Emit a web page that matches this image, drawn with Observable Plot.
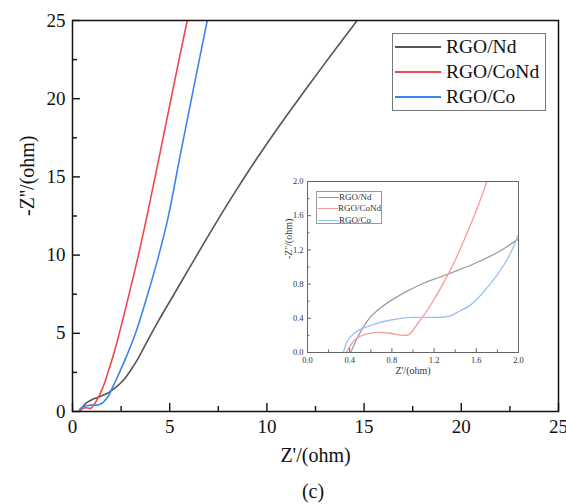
<!DOCTYPE html>
<html>
<head>
<meta charset="utf-8">
<script src="https://cdn.jsdelivr.net/npm/d3@7"></script>
<script src="https://cdn.jsdelivr.net/npm/@observablehq/plot@0.6"></script>
<style>
  html, body { margin: 0; padding: 0; background: #fff; overflow: hidden; }
  #fig { position: relative; width: 566px; height: 504px; font-family: "Liberation Serif", "Times New Roman", Times, "DejaVu Serif", serif; color: #111; }
  #fig svg { position: absolute; }
  .legend { position: absolute; background: #fff; box-sizing: border-box; }
  .legend .row { position: absolute; left: 0; right: 0; display: flex; align-items: center; }
  .legend .sw { display: inline-block; }
  #caption { position: absolute; left: 283px; width: 60px; top: 478px; height: 26px; line-height: 26px; text-align: center; font-size: 20px; }
</style>
</head>
<body>
<div id="fig"></div>
<script>
// ---- data ----
const seriesNames = ["RGO/Nd", "RGO/CoNd", "RGO/Co"];
const mainColors = ["#555555", "#f2474a", "#3a85ef"];
const insetColors = ["#9c9c9c", "#f79c9c", "#9dc1f3"];

const ndX = [0.41,0.46,0.52,0.6,0.7,0.82,0.95,1.1,1.25,1.4,1.6,1.8,2.0,2.3,2.65,3.0,3.4,3.85,4.4,5.2,6.0,6.8,7.6,8.4,9.2,10.0,11.0,12.0,13.0,14.0,14.64];
const ndY = [0,0.14,0.28,0.42,0.53,0.63,0.72,0.81,0.88,0.95,1.05,1.17,1.33,1.62,2.05,2.65,3.45,4.5,5.75,7.45,9.15,10.85,12.51,14.11,15.65,17.12,18.89,20.61,22.29,23.94,25];

const coNdX = [0.37,0.41,0.46,0.54,0.66,0.79,0.9,0.96,1.0,1.05,1.1,1.2,1.3,1.4,1.5,1.6,1.7,1.84,2.1,2.47,2.95,3.41,3.85,4.53,5.2,5.9];
const coNdY = [0,0.09,0.16,0.21,0.235,0.225,0.2,0.21,0.26,0.35,0.43,0.62,0.84,1.08,1.36,1.66,2.0,2.55,3.6,5.3,7.7,10.1,12.6,16.7,20.8,25];

const coX = [0.34,0.36,0.39,0.44,0.5,0.63,0.79,0.98,1.17,1.3,1.36,1.42,1.55,1.67,1.8,1.92,2.0,2.2,2.47,2.85,3.24,3.87,4.44,4.9,5.56,6.25,6.93];
const coY = [0,0.08,0.16,0.22,0.27,0.33,0.38,0.41,0.41,0.415,0.43,0.47,0.56,0.71,0.91,1.15,1.38,1.9,2.65,3.75,5.0,7.5,10,12.3,16.5,20.8,25];

const mainMajorTicks = [0,5,10,15,20,25];
const mainMinorTicks = [2.5,7.5,12.5,17.5,22.5];
const insetMajorTicks = [0,0.4,0.8,1.2,1.6,2.0];
const insetMinorTicks = [0.2,0.6,1.0,1.4,1.8];

const xLabel = "Z'/(ohm)";
const yLabel = "-Z''/(ohm)";
const captionText = "(c)";

// ---- table ----
const table = [];
[[ndX, ndY], [coNdX, coNdY], [coX, coY]].forEach(([xs, ys], i) => {
  xs.forEach((x, j) => table.push({series: seriesNames[i], x, y: ys[j]}));
});

const FONT = "'Liberation Serif', 'Times New Roman', Times, 'DejaVu Serif', serif";
const fig = document.getElementById("fig");

// ---- main plot ----
const mW = 566, mH = 478, mL = 72, mR = 8, mT = 20, mB = 67;
const fW = mW - mL - mR, fH = mH - mT - mB;
const main = Plot.plot({
  width: mW, height: mH,
  marginLeft: mL, marginRight: mR, marginTop: mT, marginBottom: mB,
  x: {domain: [0, 25]},
  y: {domain: [0, 25]},
  color: {domain: seriesNames, range: mainColors},
  style: {fontFamily: FONT, background: "transparent", color: "#111"},
  marks: [
    Plot.line(table, {x: "x", y: "y", z: "series", stroke: "series", strokeWidth: 1.6, curve: "catmull-rom", clip: true}),
    Plot.tickX(mainMajorTicks, {x: d => d, stroke: "#111", strokeWidth: 1.4, insetTop: fH - 8}),
    Plot.tickX(mainMinorTicks, {x: d => d, stroke: "#111", strokeWidth: 1.4, insetTop: fH - 5}),
    Plot.tickY(mainMajorTicks, {y: d => d, stroke: "#111", strokeWidth: 1.4, insetRight: fW - 8}),
    Plot.tickY(mainMinorTicks, {y: d => d, stroke: "#111", strokeWidth: 1.4, insetRight: fW - 5}),
    Plot.frame({stroke: "#111", strokeWidth: 1.5}),
    Plot.axisX(mainMajorTicks, {tickSize: 0, tickPadding: 8, fontSize: 19, fontFamily: FONT, label: null, fill: "#111"}),
    Plot.axisY(mainMajorTicks, {tickSize: 0, tickPadding: 7, fontSize: 19, fontFamily: FONT, label: null, fill: "#111"}),
    Plot.text([xLabel], {text: d => d, frameAnchor: "bottom", dy: 50, fontSize: 20, fontFamily: FONT, fill: "#111"}),
    Plot.text([yLabel], {text: d => d, frameAnchor: "left", dx: -45, rotate: -90, fontSize: 20, fontFamily: FONT, fill: "#111"})
  ]
});
main.style.left = "0px"; main.style.top = "0px";
fig.appendChild(main);

// ---- inset plot ----
const iLeft = 280, iTop = 170;
const iW = 250, iH = 215, iL = 27, iR = 12, iT = 11, iB = 33;
const ifW = iW - iL - iR, ifH = iH - iT - iB;
const inset = Plot.plot({
  width: iW, height: iH,
  marginLeft: iL, marginRight: iR, marginTop: iT, marginBottom: iB,
  x: {domain: [0, 2]},
  y: {domain: [0, 2]},
  color: {domain: seriesNames, range: insetColors},
  style: {fontFamily: FONT, background: "transparent", color: "#222"},
  marks: [
    Plot.line(table, {x: "x", y: "y", z: "series", stroke: "series", strokeWidth: 1.3, curve: "catmull-rom", clip: true}),
    Plot.tickX(insetMajorTicks, {x: d => d, stroke: "#555", strokeWidth: 0.9, insetTop: ifH - 4}),
    Plot.tickX(insetMinorTicks, {x: d => d, stroke: "#555", strokeWidth: 0.9, insetTop: ifH - 2.5}),
    Plot.tickY(insetMajorTicks, {y: d => d, stroke: "#555", strokeWidth: 0.9, insetRight: ifW - 4}),
    Plot.tickY(insetMinorTicks, {y: d => d, stroke: "#555", strokeWidth: 0.9, insetRight: ifW - 2.5}),
    Plot.frame({stroke: "#666", strokeWidth: 1}),
    Plot.axisX(insetMajorTicks, {tickSize: 0, tickPadding: 4, fontSize: 8.5, fontFamily: FONT, label: null, tickFormat: d3.format(".1f"), fill: "#333"}),
    Plot.axisY(insetMajorTicks, {tickSize: 0, tickPadding: 4, fontSize: 8.5, fontFamily: FONT, label: null, tickFormat: d3.format(".1f"), fill: "#333"}),
    Plot.text([xLabel], {text: d => d, frameAnchor: "bottom", dy: 21, fontSize: 10, fontFamily: FONT, fill: "#333"}),
    Plot.text([yLabel], {text: d => d, frameAnchor: "left", dx: -19, dy: -8, rotate: -90, fontSize: 10, fontFamily: FONT, fill: "#333"})
  ]
});
inset.style.left = iLeft + "px"; inset.style.top = iTop + "px";
fig.appendChild(inset);

// ---- legends ----
function makeLegend(colors, opts) {
  const box = document.createElement("div");
  box.className = "legend";
  Object.assign(box.style, {
    left: opts.left + "px", top: opts.top + "px", width: opts.width + "px", height: opts.height + "px",
    border: opts.border
  });
  seriesNames.forEach((name, i) => {
    const row = document.createElement("div");
    row.className = "row";
    row.style.top = (opts.firstRow + i * opts.rowGap - opts.fontSize / 2) + "px";
    row.style.height = opts.fontSize + "px";
    const sw = document.createElement("span");
    sw.className = "sw";
    Object.assign(sw.style, {
      marginLeft: opts.swLeft + "px", width: opts.swWidth + "px",
      borderTop: opts.lineWidth + "px solid " + colors[i], marginRight: opts.gap + "px"
    });
    const t = document.createElement("span");
    t.textContent = name;
    Object.assign(t.style, {fontSize: opts.fontSize + "px", lineHeight: opts.fontSize + "px", color: opts.textColor, fontFamily: FONT});
    row.appendChild(sw); row.appendChild(t);
    box.appendChild(row);
  });
  fig.appendChild(box);
}
makeLegend(mainColors, {left: 392, top: 33, width: 154, height: 78, border: "1.3px solid #777",
  firstRow: 13, rowGap: 25, fontSize: 19.5, swLeft: 2, swWidth: 46, lineWidth: 2, gap: 5, textColor: "#111"});
makeLegend(insetColors, {left: 316, top: 191, width: 66, height: 33, border: "1px solid #999",
  firstRow: 5, rowGap: 11.6, fontSize: 9, swLeft: 1, swWidth: 21, lineWidth: 1.5, gap: 0, textColor: "#333"});

// ---- caption ----
const cap = document.createElement("div");
cap.id = "caption";
cap.textContent = captionText;
cap.style.fontFamily = FONT;
fig.appendChild(cap);
</script>
</body>
</html>
